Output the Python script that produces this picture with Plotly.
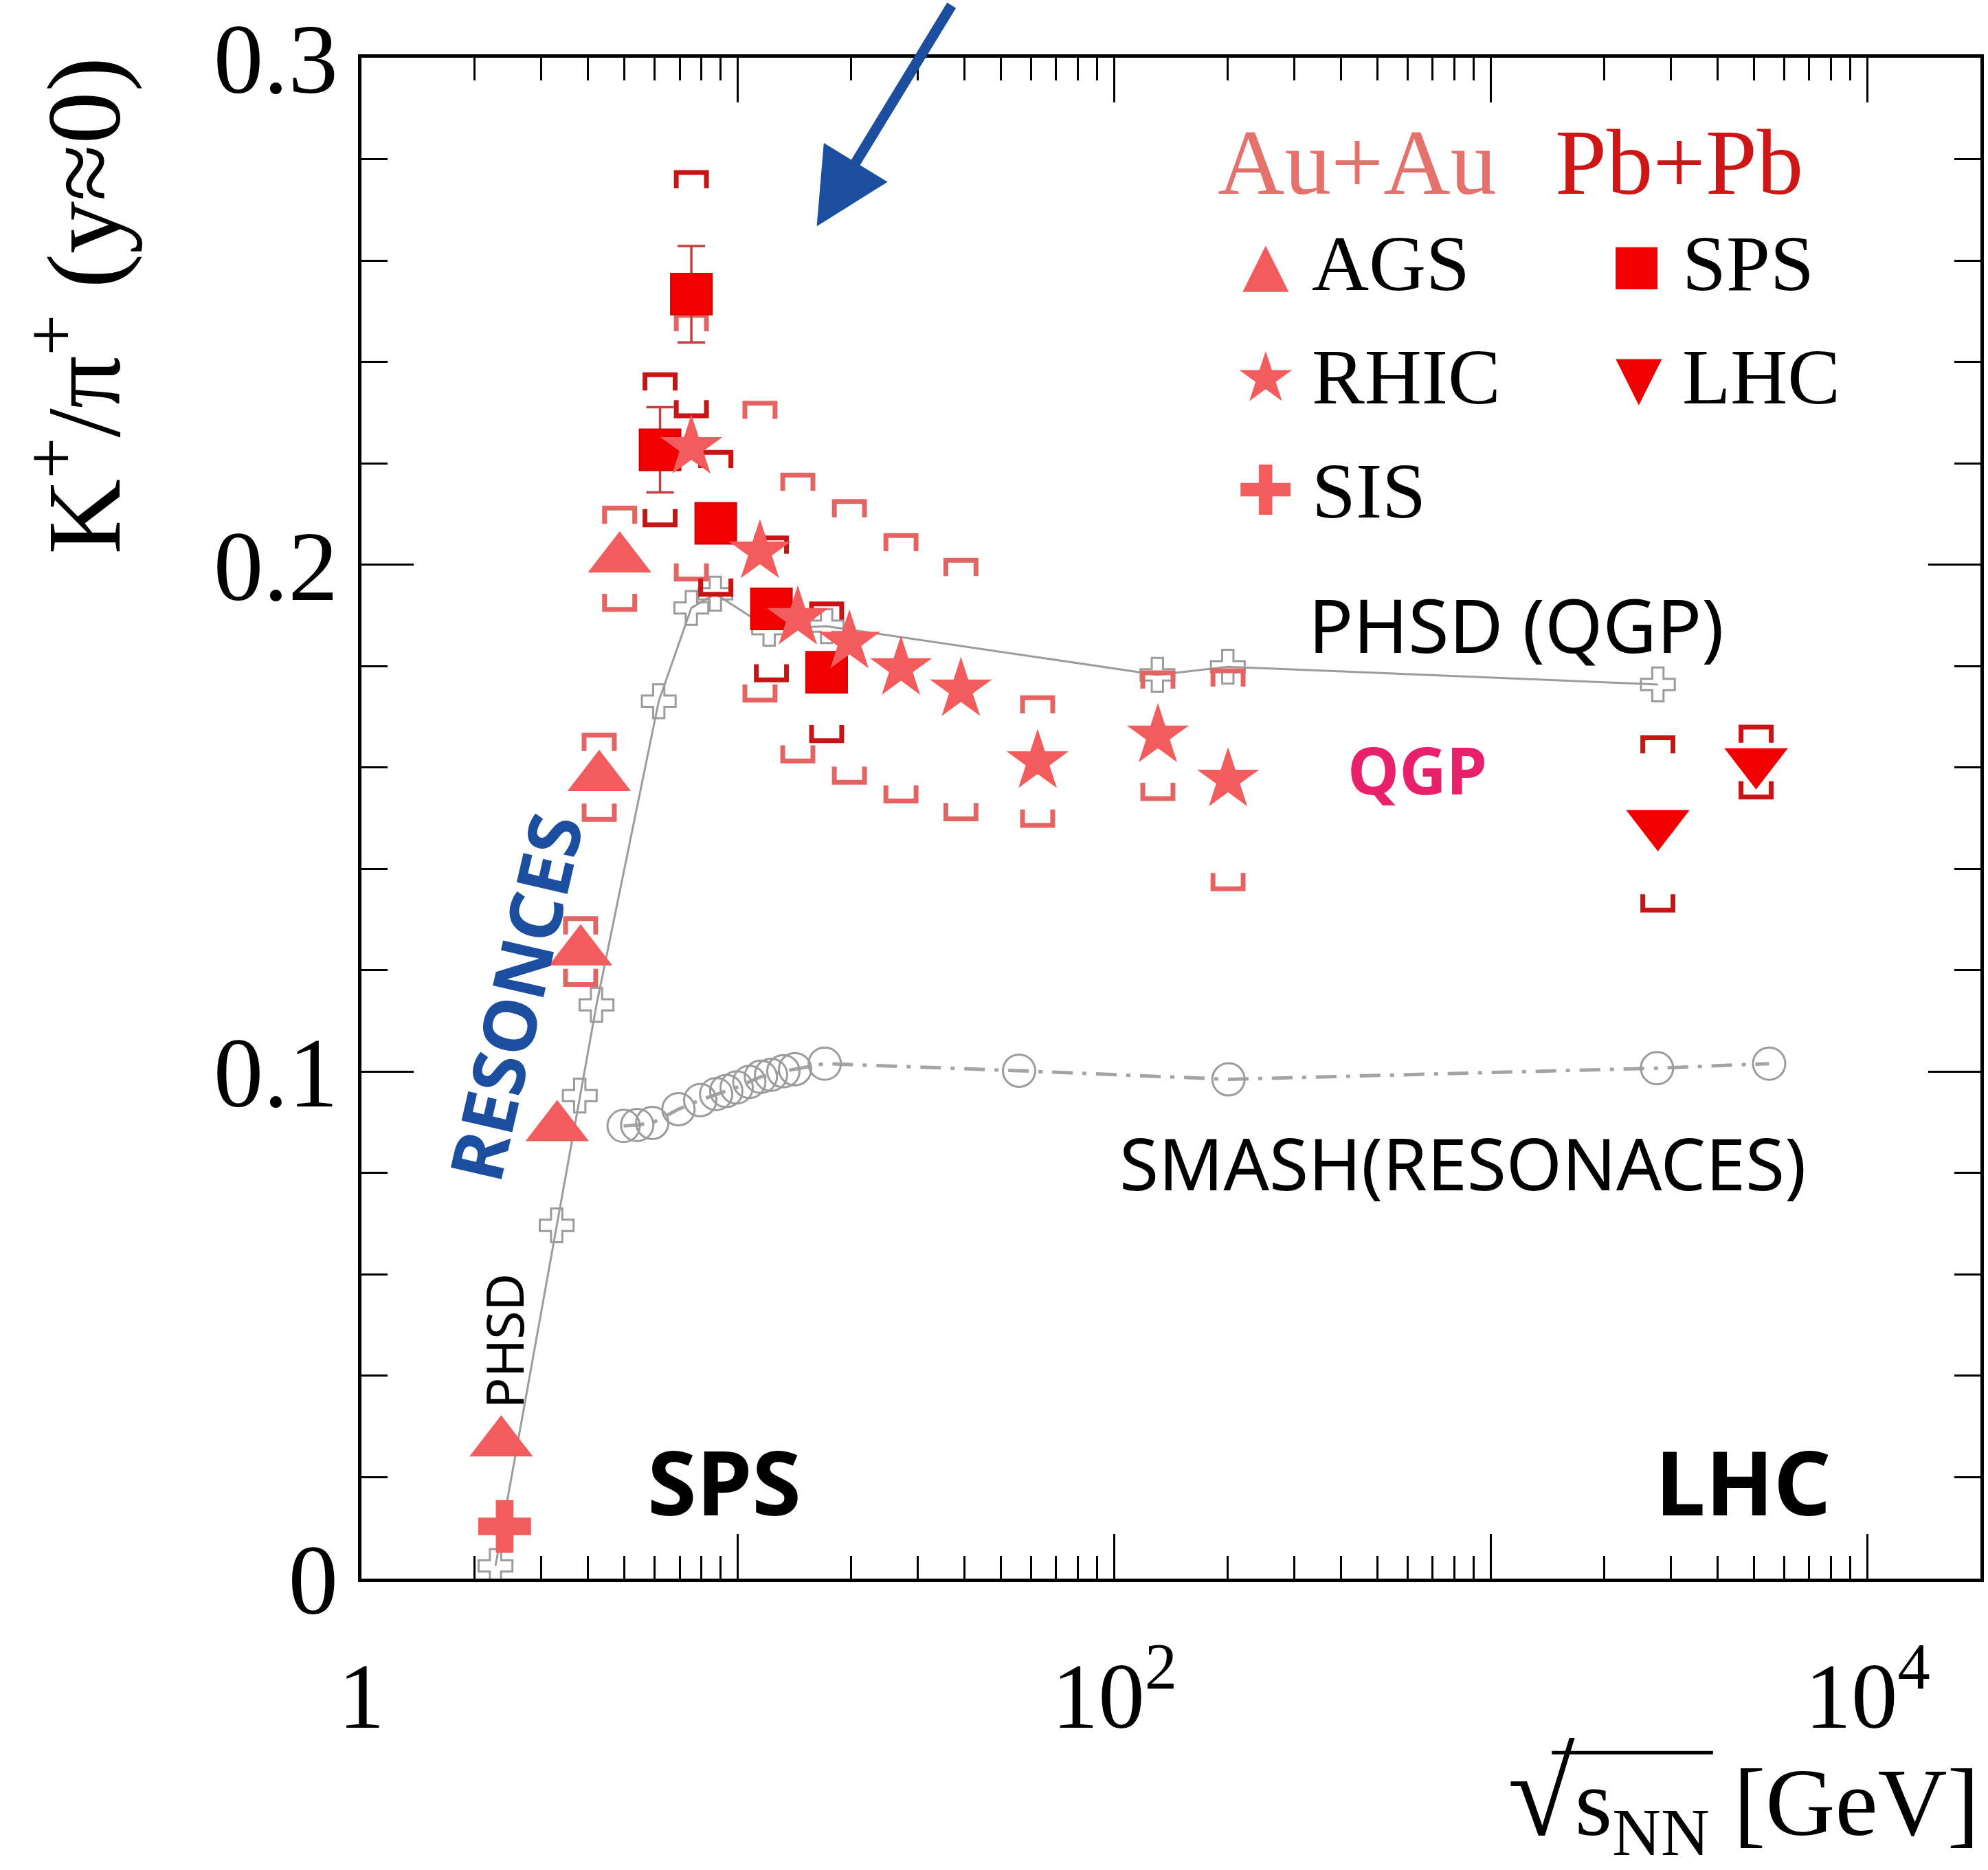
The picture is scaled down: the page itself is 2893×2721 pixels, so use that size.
import plotly.graph_objects as go

# K+/pi+ ratio at mid-rapidity versus collision energy sqrt(s_NN)

# Au+Au, AGS
ags_energy = [2.35, 3.31, 3.82, 4.28, 4.85]
ags_ratio = [0.0268, 0.0890, 0.1237, 0.1581, 0.2012]
ags_sys = [0.0, 0.0, 0.0065, 0.0083, 0.0100]

# Au+Au, RHIC
rhic_energy = [7.52, 11.44, 14.42, 19.77, 27.1, 39.1, 62.5, 130.4, 200.3]
rhic_ratio = [0.2232, 0.2026, 0.1895, 0.1848, 0.1796, 0.1754, 0.1612, 0.1663, 0.1576]
rhic_sys = [0.0260, 0.0293, 0.0282, 0.0277, 0.0262, 0.0255, 0.0126, 0.0124, 0.0215]

# Au+Au, SIS
sis_energy = [2.40]
sis_ratio = [0.0103]

# Pb+Pb, SPS
sps_energy = [6.21, 7.52, 8.73, 12.27, 17.2]
sps_ratio = [0.2227, 0.2534, 0.2082, 0.1913, 0.1788]
sps_stat = [0.0084, 0.0095, 0.003, 0.003, 0.003]
sps_sys = [0.0148, 0.0240, 0.0140, 0.0140, 0.0135]

# Pb+Pb, LHC
lhc_energy = [2775, 5060]
lhc_ratio = [0.1489, 0.1611]
lhc_sys = [0.0170, 0.0069]

# transport models
phsd_energy = [2.27, 3.30, 3.80, 4.21, 6.16, 7.52, 8.71, 12.1, 17.2, 130, 200, 2775]
phsd_ratio = [0.0025, 0.0697, 0.0953, 0.1132, 0.1731, 0.1915, 0.1943, 0.1874, 0.1879,
              0.1783, 0.1799, 0.1764]
smash_energy = [4.97, 5.40, 5.92, 6.95, 7.94, 8.75, 9.31, 9.92, 10.72, 11.5, 12.24,
                13.2, 14.18, 17.0, 55.8, 200.8, 2760, 5480]
smash_ratio = [0.0893, 0.0895, 0.0899, 0.0926, 0.0944, 0.0956, 0.0962, 0.0969, 0.0980,
               0.0990, 0.0994, 0.1001, 0.1005, 0.1016, 0.1002, 0.0985, 0.1007, 0.1016]

# axis ticks
x_major = [1, 10, 100, 1000, 10000]
x_major_text = ["1", "", "10<sup>2</sup>", "", "10<sup>4</sup>"]
x_minor = [m * 10 ** d for d in range(0, 4) for m in range(2, 10)] + [20000]
y_major = [0, 0.1, 0.2, 0.3]
y_major_text = ["0", "0.1", "0.2", "0.3"]

# figure geometry
W, H = 2893, 2721
ML, MR, MT, MB = 526, 6, 77, 424
X_RANGE = [0, 4.3]
Y_RANGE = [0, 0.30005]
plot_w = W - ML - MR
plot_h = H - MT - MB
px_per_decade = plot_w / (X_RANGE[1] - X_RANGE[0])
px_per_unit = plot_h / (Y_RANGE[1] - Y_RANGE[0])

LIGHT = "#f25c5c"
LIGHT_SYS = "#e46464"
DARK = "#f00000"
DARK_SYS = "#c81414"
GREY = "#9c9c9c"
SERIF = "Liberation Serif, Times New Roman, serif"
HAND = "Noto Sans, DejaVu Sans, sans-serif"


def px(x, y):
    """pixel position on the page -> paper coordinates"""
    return (x - ML) / plot_w, (H - MB - y) / plot_h


def brackets(energy, ratio, sys, half_px=22, leg_px=23):
    """systematic-uncertainty brackets drawn above and below each point"""
    xs, ys = [], []
    f = 10 ** (half_px / px_per_decade)
    dy = leg_px / px_per_unit
    for e, r, s in zip(energy, ratio, sys):
        if not s:
            continue
        lo, hi = e / f, e * f
        top, bot = r + s, r - s
        xs += [lo, lo, hi, hi, None, lo, lo, hi, hi, None]
        ys += [top - dy, top, top, top - dy, None, bot + dy, bot, bot, bot + dy, None]
    return xs, ys


fig = go.Figure()

fig.add_trace(go.Scatter(
    x=phsd_energy, y=phsd_ratio, mode="lines+markers",
    line=dict(color=GREY, width=3),
    marker=dict(symbol="cross-open", size=41, color=GREY, line=dict(width=3, color=GREY)),
))
fig.add_trace(go.Scatter(
    x=smash_energy, y=smash_ratio, mode="lines+markers",
    line=dict(color="#a4a4a4", width=5, dash="30px,14px,6px,14px"),
    marker=dict(symbol="circle-open", size=47, color=GREY, line=dict(width=3, color=GREY)),
))

bx, by = brackets(ags_energy + rhic_energy, ags_ratio + rhic_ratio, ags_sys + rhic_sys)
fig.add_trace(go.Scatter(x=bx, y=by, mode="lines", line=dict(color=LIGHT_SYS, width=7),
                         connectgaps=False))
bx, by = brackets(sps_energy + lhc_energy, sps_ratio + lhc_ratio, sps_sys + lhc_sys)
fig.add_trace(go.Scatter(x=bx, y=by, mode="lines", line=dict(color=DARK_SYS, width=7),
                         connectgaps=False))

fig.add_trace(go.Scatter(
    x=sps_energy, y=sps_ratio, mode="markers",
    marker=dict(symbol="square", size=60, color=DARK, line=dict(width=2, color="#d40000")),
    error_y=dict(type="data", array=sps_stat, color="#c44040", thickness=3.5, width=20),
))
fig.add_trace(go.Scatter(
    x=lhc_energy, y=lhc_ratio, mode="markers",
    marker=dict(symbol="triangle-down", size=80, color=DARK, line=dict(width=0)),
))
fig.add_trace(go.Scatter(
    x=ags_energy, y=ags_ratio, mode="markers",
    marker=dict(symbol="triangle-up", size=80, color=LIGHT, line=dict(width=0)),
))
fig.add_trace(go.Scatter(
    x=sis_energy, y=sis_ratio, mode="markers",
    marker=dict(symbol="cross", size=64, color=LIGHT, line=dict(width=0)),
))
fig.add_trace(go.Scatter(
    x=rhic_energy, y=rhic_ratio, mode="markers",
    marker=dict(symbol="star", size=68, color=LIGHT, line=dict(width=0)),
))

annotations = []


def note(x, y, text, size, color="black", family=HAND, angle=0, xanchor="center",
         yanchor="middle"):
    ax_, ay_ = px(x, y)
    annotations.append(dict(
        x=ax_, y=ay_, xref="paper", yref="paper", text=text, showarrow=False,
        font=dict(family=family, size=size, color=color), textangle=angle,
        xanchor=xanchor, yanchor=yanchor,
    ))


# axis titles
note(110, 74, "K<sup>+</sup>/π<sup>+</sup> (y≈0)", 152, family=SERIF, angle=-90,
     yanchor="top")
note(2887, 2617, "<span style='font-size:178px'>√</span>s<sub>NN</sub> [GeV]",
     140, family=SERIF, xanchor="right")

# legend block
note(1978, 230, "Au+Au", 135, color="#e4716b", family=SERIF)
note(2448, 230, "Pb+Pb", 135, color="#cf1616", family=SERIF)
rows = [377, 543, 709]
note(1845, rows[0], "▲", 88, color=LIGHT, family="DejaVu Sans")
note(1845, rows[1], "★", 100, color=LIGHT, family="DejaVu Sans")
note(1845, rows[2], "✚", 100, color=LIGHT, family="DejaVu Sans")
note(2386, rows[0], "■", 80, color=DARK, family="DejaVu Sans")
note(2389, rows[1], "▼", 88, color=DARK, family="DejaVu Sans")
note(1910, rows[0], "AGS", 115, family=SERIF, xanchor="left")
note(1910, rows[1], "RHIC", 115, family=SERIF, xanchor="left")
note(1910, rows[2], "SIS", 115, family=SERIF, xanchor="left")
note(2450, rows[0], "SPS", 115, family=SERIF, xanchor="left")
note(2450, rows[1], "LHC", 115, family=SERIF, xanchor="left")

# hand-written remarks
note(2210, 904, "PHSD (QGP)", 108)
note(2066, 1115, "<b>QGP</b>", 95, color="#e8216a")
note(2132, 1690, "SMASH(RESONACES)", 104)
note(749, 1448, "<b>RESONCES</b>", 106, color="#1b4e9e", angle=-77)
note(734, 1950, "PHSD", 75, angle=-90)
note(1055, 2154, "<b>SPS</b>", 130)
note(2541, 2154, "<b>LHC</b>", 130)

# arrow pointing at the horn
tip = px(1190, 323)
annotations.append(dict(
    x=tip[0], y=tip[1], xref="paper", yref="paper", text="", showarrow=True,
    ax=197, ay=-323, arrowcolor="#1b4e9e", arrowwidth=15, arrowhead=2, arrowsize=1.45,
    standoff=0,
))

# bar over the radicand of the x-axis title
ov0 = px(2262, 2551)
ov1 = px(2497, 2551)
shapes = [dict(type="line", xref="paper", yref="paper", x0=ov0[0], x1=ov1[0],
               y0=ov0[1], y1=ov1[1], line=dict(color="black", width=5))]

axis_common = dict(
    showgrid=False, zeroline=False, showline=True, linecolor="black", linewidth=5,
    mirror="allticks", ticks="inside", tickcolor="black", tickwidth=3,
    ticklabeloverflow="allow",
)

fig.update_layout(
    width=W, height=H, margin=dict(l=ML, r=MR, t=MT, b=MB),
    paper_bgcolor="white", plot_bgcolor="white", showlegend=False,
    annotations=annotations, shapes=shapes,
    xaxis=dict(
        type="log", range=X_RANGE, tickmode="array", tickvals=x_major, ticktext=x_major_text,
        ticklen=65, ticklabelstandoff=50,
        tickfont=dict(family=SERIF, size=135, color="black"),
        minor=dict(tickmode="array", tickvals=x_minor, ticks="inside", ticklen=33,
                   tickwidth=3, tickcolor="black"),
        **axis_common,
    ),
    yaxis=dict(
        range=Y_RANGE, tickmode="array", tickvals=y_major, ticktext=y_major_text,
        ticklen=76, ticklabelstandoff=0,
        tickfont=dict(family=SERIF, size=145, color="black"),
        minor=dict(dtick=0.02, ticks="inside", ticklen=38, tickwidth=3, tickcolor="black"),
        **axis_common,
    ),
)

fig.write_html("out.html")
